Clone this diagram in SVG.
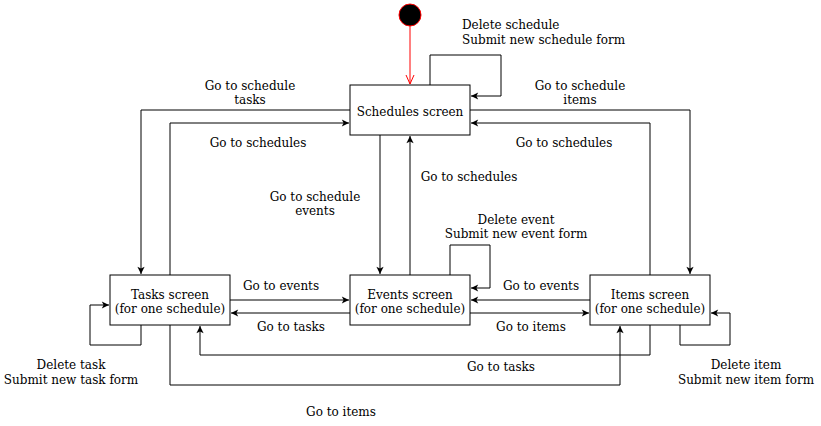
<svg xmlns="http://www.w3.org/2000/svg" width="821" height="426" viewBox="0 0 821 426">
<style>
text{font-family:"DejaVu Serif",serif;font-size:12px;fill:#000;text-anchor:middle}
.box{fill:#fff;stroke:#000;stroke-width:1}
.e{fill:none;stroke:#000;stroke-width:1;marker-end:url(#arr)}
.lbl{text-anchor:start}
</style>
<defs>
<marker id="arr" viewBox="0 0 10 10" refX="9" refY="5" markerWidth="9" markerHeight="9" markerUnits="userSpaceOnUse" orient="auto">
<path d="M1,1 L9,5 L1,9 L3,5 Z" fill="#000"/>
</marker>
<marker id="open" viewBox="0 0 10 10" refX="9" refY="5" markerWidth="10" markerHeight="10" markerUnits="userSpaceOnUse" orient="auto">
<path d="M0,1 L9,5 L0,9" fill="none" stroke="#f00" stroke-width="1"/>
</marker>
</defs>
<g id="connectors">
<path d="M410,26 L410,84" fill="none" stroke="#f00" marker-end="url(#open)"/>
<path class="e" d="M430,85 L430,55 L501,55 L501,96 L471,96"/>
<path class="e" d="M350,110 L141,110 L141,274"/>
<path class="e" d="M170,275 L170,123 L349,123"/>
<path class="e" d="M470,110 L690,110 L690,274"/>
<path class="e" d="M650,275 L650,123 L471,123"/>
<path class="e" d="M380,135 L380,274"/>
<path class="e" d="M410,275 L410,136"/>
<path class="e" d="M450,275 L450,245 L490,245 L490,288 L471,288"/>
<path class="e" d="M230,300 L349,300"/>
<path class="e" d="M350,313 L231,313"/>
<path class="e" d="M590,300 L471,300"/>
<path class="e" d="M470,313 L589,313"/>
<path class="e" d="M141,325 L141,345 L90,345 L90,305 L109,305"/>
<path class="e" d="M680,325 L680,345 L730,345 L730,313 L711,313"/>
<path class="e" d="M650,325 L650,355 L200,355 L200,326"/>
<path class="e" d="M170,325 L170,385 L620,385 L620,326"/>
</g>
<g id="start"><circle cx="410" cy="15" r="11" fill="#000" stroke="#f00" stroke-width="1"/></g>
<g id="schedules"><rect class="box" x="350" y="85" width="120" height="50"/><text x="410" y="116">Schedules screen</text></g>
<g id="tasks"><rect class="box" x="110" y="275" width="120" height="50"/><text x="170" y="299">Tasks screen</text><text x="170" y="313">(for one schedule)</text></g>
<g id="events"><rect class="box" x="350" y="275" width="120" height="50"/><text x="410" y="299">Events screen</text><text x="410" y="313">(for one schedule)</text></g>
<g id="items"><rect class="box" x="590" y="275" width="120" height="50"/><text x="650" y="299">Items screen</text><text x="650" y="313">(for one schedule)</text></g>
<g id="labels">
<text class="lbl" x="462" y="29">Delete schedule</text>
<text class="lbl" x="462" y="44">Submit new schedule form</text>
<text x="250" y="90">Go to schedule</text><text x="250" y="104">tasks</text>
<text x="580" y="90">Go to schedule</text><text x="580" y="104">items</text>
<text x="258" y="147">Go to schedules</text>
<text x="564" y="147">Go to schedules</text>
<text x="315" y="201">Go to schedule</text><text x="315" y="215">events</text>
<text x="469" y="181">Go to schedules</text>
<text x="516" y="224">Delete event</text><text x="516" y="238">Submit new event form</text>
<text x="281" y="290">Go to events</text>
<text x="291" y="331">Go to tasks</text>
<text x="541" y="290">Go to events</text>
<text x="531" y="331">Go to items</text>
<text x="71" y="369">Delete task</text><text x="71" y="384">Submit new task form</text>
<text x="746" y="369">Delete item</text><text x="746" y="384">Submit new item form</text>
<text x="501" y="371">Go to tasks</text>
<text x="341" y="416">Go to items</text>
</g>
</svg>
